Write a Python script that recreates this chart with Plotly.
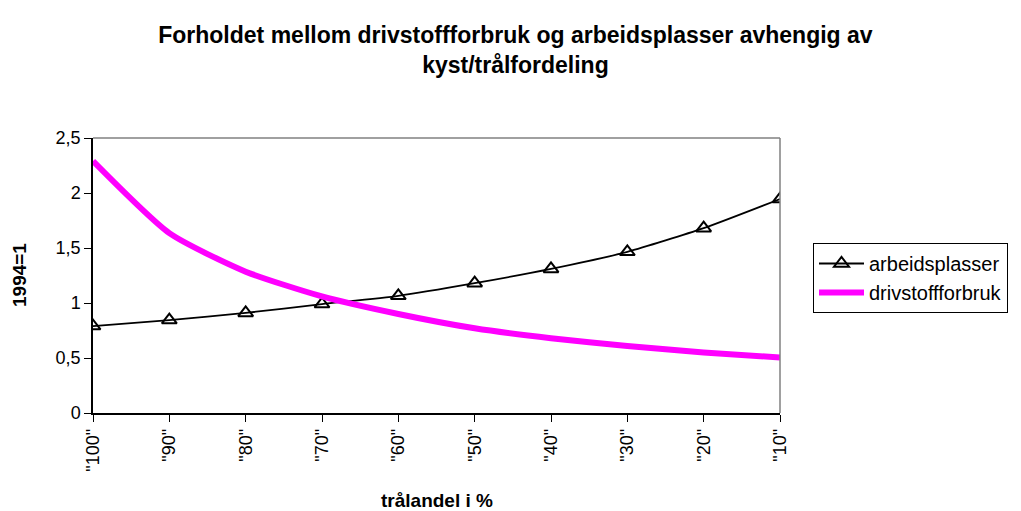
import plotly.graph_objects as go

categories = ['"100"', '"90"', '"80"', '"70"', '"60"', '"50"', '"40"', '"30"', '"20"', '"10"']
arbeidsplasser = [0.79, 0.845, 0.91, 0.99, 1.065, 1.18, 1.31, 1.465, 1.68, 1.945]
drivstoffforbruk = [2.29, 1.635, 1.285, 1.06, 0.9, 0.77, 0.68, 0.61, 0.55, 0.505]
y_ticks = [0, 0.5, 1, 1.5, 2, 2.5]

FONT = "Liberation Sans, Arial, sans-serif"
W, H = 1021, 511
OFF = 8  # page body margin
L, R, T, B = 93 - OFF, W - (780 - OFF), 138 - OFF, H - (413 - OFF)
PW, PH = W - L - R, H - T - B

fig = go.Figure()
fig.add_trace(go.Scatter(
    x=categories, y=arbeidsplasser, name="arbeidsplasser",
    mode="lines+markers",
    line=dict(color="black", width=1.8, shape="spline", smoothing=0.6),
    marker=dict(symbol="triangle-up-open", size=13, color="black", line=dict(width=2, color="black")),
))
fig.add_trace(go.Scatter(
    x=categories, y=drivstoffforbruk, name="drivstoffforbruk",
    mode="lines",
    line=dict(color="#ff00ff", width=6, shape="spline", smoothing=0.6),
))

fig.update_layout(
    width=W, height=H,
    margin=dict(l=L, r=R, t=T, b=B),
    paper_bgcolor="white", plot_bgcolor="white",
    separators=", ",
    font=dict(family=FONT, size=18, color="black"),
    title=dict(
        text="Forholdet mellom drivstoffforbruk og arbeidsplasser avhengig av<br>kyst/trålfordeling",
        x=0.497, xanchor="center", xref="container",
        y=1 - 35 / H, yanchor="middle", yref="container",
        font=dict(family=FONT, size=23, color="black", weight="bold"),
    ),
    showlegend=True,
    legend=dict(
        x=(813 - 93) / PW, y=(413 - 243) / PH, xanchor="left", yanchor="top",
        bordercolor="black", borderwidth=1, bgcolor="white",
        font=dict(family=FONT, size=20),
        itemwidth=45,
        tracegroupgap=0,
    ),
)

fig.update_xaxes(
    type="category", range=[0, 9],
    tickangle=-90, ticks="outside", ticklen=7, tickcolor="black",
    showline=True, linecolor="black", linewidth=1.5, mirror=False,
    showgrid=False, tickfont=dict(family=FONT, size=18),
)
fig.update_yaxes(
    range=[0, 2.5], tickvals=y_ticks, ticks="outside", ticklen=7, tickcolor="black",
    showline=True, linecolor="black", linewidth=1.5,
    showgrid=False, zeroline=False, tickfont=dict(family=FONT, size=18),
)
# axis titles
fig.add_annotation(text="<b>1994=1</b>", xref="paper", yref="paper", x=0, y=0.5,
                   xshift=(19.5 - 93), xanchor="center", yanchor="middle", textangle=-90,
                   showarrow=False, font=dict(family=FONT, size=19))
fig.add_annotation(text="<b>trålandel i %</b>", xref="paper", yref="paper", x=0.5, y=0,
                   yshift=-(500 - 413), xanchor="center", yanchor="middle",
                   showarrow=False, font=dict(family=FONT, size=19))
# grey top/right border
fig.add_shape(type="line", xref="paper", yref="paper", x0=0, x1=1, y0=1, y1=1, line=dict(color="#808080", width=1.5))
fig.add_shape(type="line", xref="paper", yref="paper", x0=1, x1=1, y0=0, y1=1, line=dict(color="#808080", width=1.5))

fig.write_html("out.html")
